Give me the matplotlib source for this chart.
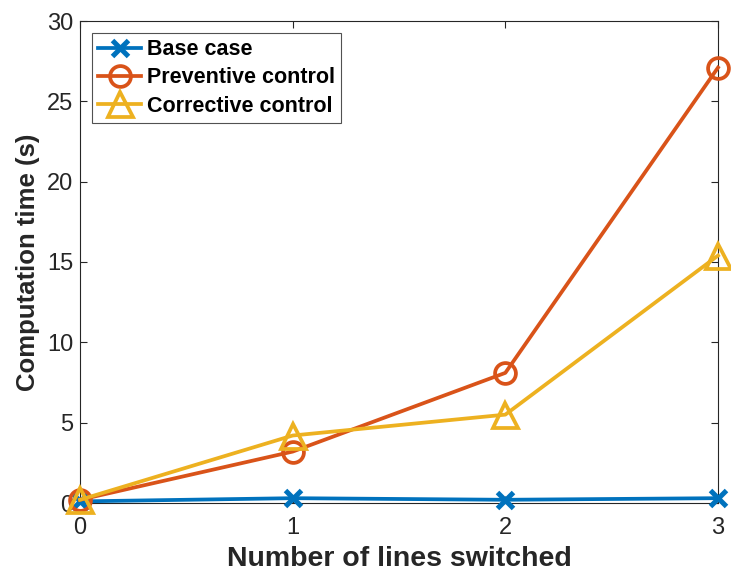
import matplotlib
matplotlib.use("Agg")
import matplotlib.pyplot as plt

x_vals = [0, 1, 2, 3]
base_case = [0.1, 0.3, 0.2, 0.3]
preventive = [0.2, 3.2, 8.1, 27.1]
corrective = [0.2, 4.2, 5.5, 15.4]
series_labels = ["Base case", "Preventive control", "Corrective control"]
x_ticks = [0, 1, 2, 3]
y_ticks = [0, 5, 10, 15, 20, 25, 30]

plt.rcParams['font.family'] = ['Liberation Sans', 'DejaVu Sans']

fig = plt.figure(figsize=(7.31, 5.76), dpi=100)
ax = fig.add_axes([80/731, 1 - 503/576, (718-80)/731, (503-21)/576])

lw = 2.7
ax.plot(x_vals, base_case, color='#0072BD', lw=lw, marker='x', markersize=12,
        markeredgewidth=3.6, label=series_labels[0], clip_on=False, zorder=3)
ax.plot(x_vals, preventive, color='#D95319', lw=lw, marker='o', markersize=15,
        markerfacecolor='none', markeredgewidth=2.7, label=series_labels[1],
        clip_on=False, zorder=3)
ax.plot(x_vals, corrective, color='#EDB120', lw=lw, marker='^', markersize=18,
        markerfacecolor='none', markeredgewidth=2.7, label=series_labels[2],
        clip_on=False, zorder=3)

ax.set_xlim(0, 3)
ax.set_ylim(0, 30)
ax.set_xticks(x_ticks)
ax.set_yticks(y_ticks)
ax.tick_params(axis='both', labelsize=17, colors='#262626', direction='in',
               length=5, width=0.8, top=True, right=True)
ax.tick_params(axis='x', pad=10)
ax.tick_params(axis='y', pad=5)
for s in ax.spines.values():
    s.set_color('#262626')
    s.set_linewidth(0.8)

ax.set_xlabel("Number of lines switched", fontsize=20.5, fontweight='bold',
              color='#262626', labelpad=5)
ax.set_ylabel("Computation time (s)", fontsize=18.5, fontweight='bold',
              color='#262626', labelpad=5)

leg = ax.legend(loc='upper left', bbox_to_anchor=(0.0, 1.0),
                prop={'weight': 'bold', 'size': 15.5}, frameon=True, fancybox=False,
                edgecolor='#262626', handlelength=2.0, handletextpad=0.25,
                borderpad=0.3, labelspacing=0.33, borderaxespad=0.55)
leg.get_frame().set_linewidth(0.8)

fig.savefig("out.png", dpi=100)
